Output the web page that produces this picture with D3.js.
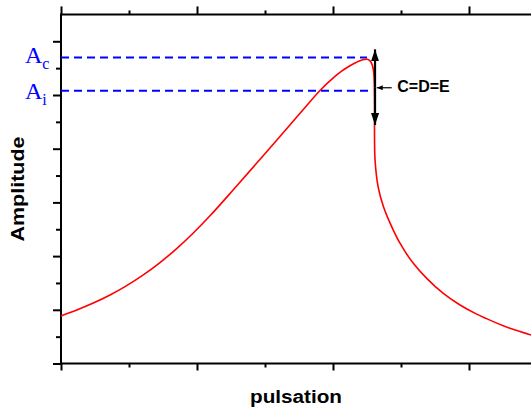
<!DOCTYPE html>
<html><head><meta charset="utf-8">
<script src="https://cdn.jsdelivr.net/npm/d3@7"></script>
<style>body{margin:0;background:#fff}svg{display:block}</style>
</head><body><svg id="c" width="531" height="410"></svg>
<script>
// ---- data ----
const pulsation = [0, 0.231, 0.475, 0.721, 0.966, 1.210, 1.456, 1.701, 1.946, 2.191, 2.534, 3.025, 3.515, 3.809, 4.004, 4.127, 4.25, 4.338, 4.397, 4.456, 4.507, 4.544, 4.574, 4.596, 4.607, 4.611, 4.618, 4.666, 4.740, 4.838, 4.985, 5.181, 5.378, 5.622, 5.868, 6.113, 6.357, 6.603, 6.912];
const amplitude = [1.77, 1.99, 2.25, 2.55, 2.90, 3.30, 3.76, 4.28, 4.86, 5.50, 6.47, 7.89, 9.32, 10.17, 10.64, 10.89, 11.09, 11.21, 11.28, 11.32, 11.33, 11.27, 11.14, 10.90, 10.48, 9.60, 7.60, 6.55, 5.86, 5.24, 4.48, 3.73, 3.17, 2.61, 2.18, 1.84, 1.56, 1.31, 1.06];
const xTicks = [0, 1, 2, 3, 4, 5, 6, 7];
const yTicks = [0, 1, 2, 3, 4, 5, 6, 7, 8, 9, 10, 11, 12];
const levelNames = ["c", "i"];          // A_c, A_i
const levelValues = [11.40, 10.16];
const levelEnds = [4.50, 4.59];
const jumpX = 4.618, jumpTop = 11.70, jumpBottom = 8.88;
const noteFrom = [4.863, 10.27], noteTo = [4.643, 10.27];
const noteText = "C=D=E", notePos = [4.946, 10.10];

// ---- scales ----
const svg = d3.select("#c");
const x = d3.scaleLinear().domain([0, 7]).range([61, 537]);
const y = d3.scaleLinear().domain([0, 13]).range([363.5, 14.45]);

// arrow markers
const defs = svg.append("defs");
defs.append("marker").attr("id","ah").attr("viewBox","0 0 12 8").attr("refX",12).attr("refY",4)
  .attr("markerWidth",12).attr("markerHeight",8).attr("markerUnits","userSpaceOnUse").attr("orient","auto-start-reverse")
  .append("path").attr("d","M0,0 L12,4 L0,8 Z").attr("fill","#000");
defs.append("marker").attr("id","sh").attr("viewBox","0 0 6 5").attr("refX",6).attr("refY",2.5)
  .attr("markerWidth",6).attr("markerHeight",5).attr("markerUnits","userSpaceOnUse").attr("orient","auto")
  .append("path").attr("d","M0,0 L6,2.5 L0,5 Z").attr("fill","#000");

// ---- axes ----
const isMajor = v => v % 2 === 0;
function ax(gen, tr, vals, size) {
  const g = svg.append("g").attr("transform", tr)
    .call(gen.tickValues(vals).tickSize(size).tickSizeOuter(0).tickFormat(""));
  g.select(".domain").remove();
  g.selectAll(".tick line").attr("stroke","#000").attr("stroke-width",2);
}
ax(d3.axisLeft(y), "translate(61,0)", yTicks.filter(isMajor), 8);
ax(d3.axisLeft(y), "translate(61,0)", yTicks.filter(v=>!isMajor(v)), 5);
ax(d3.axisBottom(x), `translate(0,${y(0)})`, xTicks.filter(isMajor), 7);
ax(d3.axisBottom(x), `translate(0,${y(0)})`, xTicks.filter(v=>!isMajor(v)), 4);
ax(d3.axisTop(x), `translate(0,${y(13)})`, xTicks.filter(isMajor), 8);
ax(d3.axisTop(x), `translate(0,${y(13)})`, xTicks.filter(v=>!isMajor(v)), 4);

// frame
const frame = svg.append("g").attr("stroke","#000").attr("stroke-width",2).attr("fill","none");
frame.append("path").attr("d", `M${x(0)},${y(13)}H${x(7)}V${y(0)}H${x(0)}Z`);

// ---- dashed levels ----
svg.append("g").selectAll("line").data(levelValues).join("line")
  .attr("x1", x(0)).attr("x2", (d,i)=>x(levelEnds[i]))
  .attr("y1", d=>y(d)).attr("y2", d=>y(d))
  .attr("stroke","#0000ff").attr("stroke-width",2).attr("stroke-dasharray","8,5");

// level labels
const lab = svg.append("g").attr("fill","#0000ff").attr("font-family","'Liberation Serif', 'Times New Roman', serif");
levelValues.forEach((v,i)=>{
  const t = lab.append("text").attr("x",25).attr("y", y(v) + (i===0?6:8.6)).attr("font-size",24);
  t.append("tspan").text("A");
  t.append("tspan").attr("font-size",16).attr("dy",6).text(levelNames[i]);
});

// ---- curve ----
const pts = pulsation.map((p,i)=>[p, amplitude[i]]);
svg.append("path").datum(pts)
  .attr("d", d3.line().x(d=>x(d[0])).y(d=>y(d[1])).curve(d3.curveCatmullRom.alpha(0.5)))
  .attr("fill","none").attr("stroke","#ff0000").attr("stroke-width",1.6);

// ---- jump arrow ----
svg.append("line").attr("x1",x(jumpX)).attr("x2",x(jumpX))
  .attr("y1",y((jumpTop+jumpBottom)/2)).attr("y2",y(jumpTop))
  .attr("stroke","#000").attr("stroke-width",2.2).attr("marker-end","url(#ah)");
svg.append("line").attr("x1",x(jumpX)).attr("x2",x(jumpX))
  .attr("y1",y((jumpTop+jumpBottom)/2)).attr("y2",y(jumpBottom))
  .attr("stroke","#000").attr("stroke-width",2.2).attr("marker-end","url(#ah)");
svg.append("line").attr("x1",x(noteFrom[0])).attr("y1",y(noteFrom[1]))
  .attr("x2",x(noteTo[0])).attr("y2",y(noteTo[1]))
  .attr("stroke","#000").attr("stroke-width",1.2).attr("marker-end","url(#sh)");
svg.append("text").attr("x",x(notePos[0])).attr("y",y(notePos[1]))
  .attr("font-family","'Liberation Sans', Arial, sans-serif").attr("font-weight","bold").attr("font-size",16)
  .attr("fill","#000").text(noteText);

// ---- axis titles ----
svg.append("text").attr("x",296).attr("y",403).attr("text-anchor","middle")
  .attr("font-family","'Liberation Sans', Arial, sans-serif").attr("font-weight","bold").attr("font-size",18)
  .attr("textLength",92).attr("lengthAdjust","spacingAndGlyphs").text("pulsation");
svg.append("text").attr("transform","translate(24,189) rotate(-90)").attr("text-anchor","middle")
  .attr("font-family","'Liberation Sans', Arial, sans-serif").attr("font-weight","bold").attr("font-size",18)
  .attr("textLength",105).attr("lengthAdjust","spacingAndGlyphs").text("Amplitude");
</script></body></html>
